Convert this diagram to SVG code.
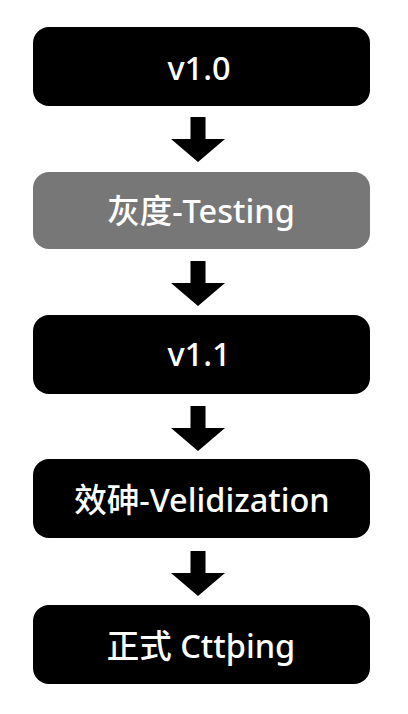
<svg xmlns="http://www.w3.org/2000/svg" width="408" height="714" viewBox="0 0 408 714">
<style>
.box{fill:#000}
.gray{fill:#777}
.lbl{fill:#fff;font-family:"Noto Sans","Noto Sans CJK SC",sans-serif;font-size:32.5px;font-weight:500;text-anchor:middle}
.arr{fill:#000}
</style>
<defs>
<path id="arrow" d="M-7.5,0 H7.5 V22 H27 L0,45 L-27,22 H-7.5 Z"/>
</defs>
<rect width="408" height="714" fill="#fff"/>
<g id="n1"><rect class="box" x="33" y="27" width="337" height="79" rx="16"/><text class="lbl" x="199" y="80">v1.0</text></g>
<g id="n2"><rect class="gray" x="33" y="172" width="337" height="77" rx="16"/><text class="lbl" x="201" y="223">灰度-Testing</text></g>
<g id="n3"><rect class="box" x="33" y="315" width="337" height="79" rx="16"/><text class="lbl" x="199" y="366">v1.1</text></g>
<g id="n4"><rect class="box" x="33" y="459" width="337" height="79" rx="16"/><text class="lbl" x="202" y="512">效砷-Velidization</text></g>
<g id="n5"><rect class="box" x="33" y="605" width="337" height="79" rx="16"/><text class="lbl" x="201" y="658">正式 Cttþing</text></g>
<g id="connectors" class="arr">
<use href="#arrow" x="198" y="117"/>
<use href="#arrow" x="198" y="261"/>
<use href="#arrow" x="198" y="406"/>
<use href="#arrow" x="198" y="551"/>
</g>
</svg>
